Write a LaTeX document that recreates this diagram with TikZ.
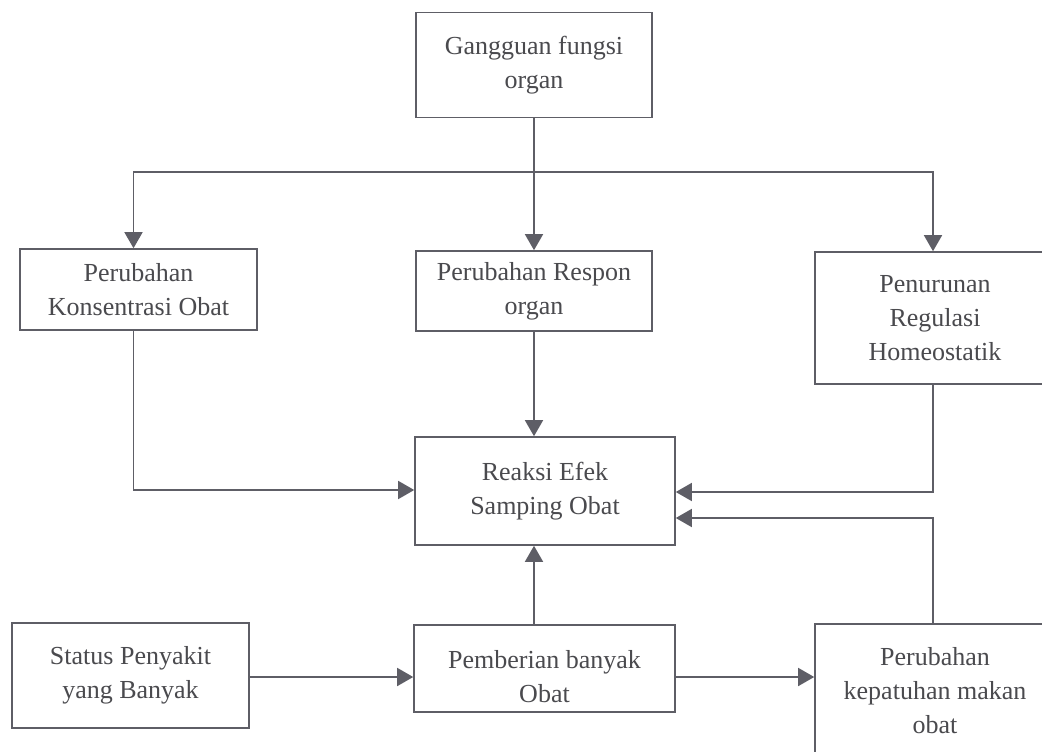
\documentclass[tikz,border=0pt]{standalone}
\usepackage{fontspec}
\setmainfont{Liberation Serif}
\usetikzlibrary{arrows.meta,calc}
\definecolor{ln}{HTML}{5E5E66}
\definecolor{tx}{HTML}{4A4A4E}
\begin{document}
\begin{tikzpicture}[x=1pt,y=-1pt,
  box/.style={draw=ln,line width=1.6pt,rectangle,inner sep=0pt,align=center,
    text=tx,font=\fontsize{26}{34}\selectfont},
  txt/.style={inner sep=0pt,align=center,text=tx,font=\fontsize{26}{34}\selectfont},
  arr/.style={draw=ln,line width=1.6pt,-{Triangle[length=16pt,width=18pt]}},
  ln/.style={draw=ln,line width=1.6pt}]
\useasboundingbox (0,0) rectangle (1042,752);
\fill[white] (0,0) rectangle (1042,752);
\clip (0,0) rectangle (1042,752);
\node[box,minimum width=236pt,minimum height=105pt] (g) at (534,65) {Gangguan fungsi\\organ};
\node[box,minimum width=237pt,minimum height=81pt] (kons) at (138.5,289.5) {Perubahan\\Konsentrasi Obat};
\node[box,minimum width=236pt,minimum height=80pt] (resp) at (534,291) {Perubahan Respon\\organ};
\node[box,minimum width=240pt,minimum height=132pt] (pen) at (935,318) {Penurunan\\Regulasi\\Homeostatik};
\node[box,minimum width=260pt,minimum height=108pt] (reak) at (545,491) {Reaksi Efek\\Samping Obat};
\node[box,minimum width=237pt,minimum height=105pt] (stat) at (130.5,675.5) {Status Penyakit\\yang Banyak};
\node[box,minimum width=261pt,minimum height=87pt] (pem) at (544.5,668.5) {};
\node[txt] (pemt) at (544.5,677) {Pemberian banyak\\Obat};
\node[box,minimum width=240pt,minimum height=134pt] (kep) at (935,691) {Perubahan\\kepatuhan makan\\obat};
\coordinate (j) at (534,172);
\coordinate (r) at (0,677);
% top distribution
\draw[ln] (g.south -| j) -- (j);
\draw[arr] (j) -- (j |- resp.north);
\draw[arr] (j) -| ([xshift=-5pt]kons.north);
\draw[arr] (j) -| ([xshift=-2pt]pen.north);
% into reaction
\draw[arr] ([xshift=-5pt]kons.south) |- ([yshift=1pt]reak.west);
\draw[arr] (j |- resp.south) -- (j |- reak.north);
\draw[arr] ([xshift=-2pt]pen.south) |- ([yshift=-1pt]reak.east);
\draw[arr] ([xshift=-2pt]kep.north) |- ([yshift=-27pt]reak.east);
\draw[arr] (j |- pem.north) -- (j |- reak.south);
% bottom row
\draw[arr] (stat.east |- r) -- (pem.west |- r);
\draw[arr] (pem.east |- r) -- (kep.west |- r);
\end{tikzpicture}
\end{document}
